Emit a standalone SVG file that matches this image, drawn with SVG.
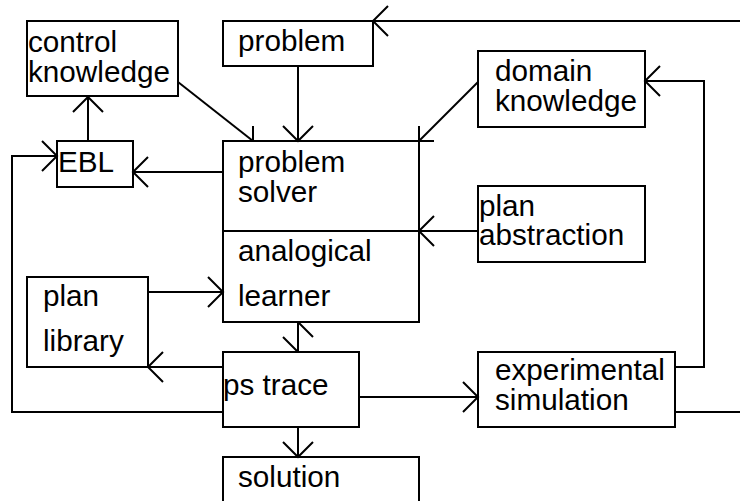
<svg xmlns="http://www.w3.org/2000/svg" width="740" height="501" viewBox="0 0 740 501">
  <style>
    .box { fill: #fff; stroke: #000; stroke-width: 2; }
    .lbl { font-family: "Liberation Sans", Arial, sans-serif; font-size: 29.7px; fill: #000; }
    .edge { fill: none; stroke: #000; stroke-width: 2; }
  </style>
  <defs>
    <marker id="arr" viewBox="-20 -20 40 40" markerWidth="40" markerHeight="40" refX="0" refY="0" orient="auto" markerUnits="userSpaceOnUse">
      <path d="M-15,-15 L0,0 L-15,15" fill="none" stroke="#000" stroke-width="2"/>
    </marker>
  </defs>
  <rect width="740" height="501" fill="#fff"/>

  <g id="control-knowledge">
    <rect class="box" x="27" y="21" width="151" height="75"/>
    <text class="lbl" x="28" y="52">control</text>
    <text class="lbl" x="28" y="82">knowledge</text>
  </g>
  <g id="problem">
    <rect class="box" x="223" y="21" width="150" height="45"/>
    <text class="lbl" x="238" y="51">problem</text>
  </g>
  <g id="ebl">
    <rect class="box" x="57" y="141" width="76" height="46"/>
    <text class="lbl" x="58" y="172">EBL</text>
  </g>
  <g id="problem-solver">
    <rect class="box" x="223" y="141" width="196" height="181"/>
    <line class="edge" x1="223" y1="231" x2="419" y2="231"/>
    <text class="lbl" x="238" y="172">problem</text>
    <text class="lbl" x="238" y="202">solver</text>
    <text class="lbl" x="238" y="261">analogical</text>
    <text class="lbl" x="238" y="306">learner</text>
  </g>
  <g id="domain-knowledge">
    <rect class="box" x="478" y="51" width="167" height="76"/>
    <text class="lbl" x="495" y="81">domain</text>
    <text class="lbl" x="495" y="111">knowledge</text>
  </g>
  <g id="plan-abstraction">
    <rect class="box" x="478" y="186" width="167" height="76"/>
    <text class="lbl" x="479" y="216">plan</text>
    <text class="lbl" x="479" y="245">abstraction</text>
  </g>
  <g id="plan-library">
    <rect class="box" x="27" y="277" width="121" height="90"/>
    <text class="lbl" x="43" y="306">plan</text>
    <text class="lbl" x="43" y="351">library</text>
  </g>
  <g id="ps-trace">
    <rect class="box" x="223" y="352" width="136" height="75"/>
    <text class="lbl" x="223" y="395">ps trace</text>
  </g>
  <g id="experimental-simulation">
    <rect class="box" x="478" y="352" width="197" height="75"/>
    <text class="lbl" x="495" y="380">experimental</text>
    <text class="lbl" x="495" y="410">simulation</text>
  </g>
  <g id="solution">
    <rect class="box" x="223" y="457" width="196" height="60"/>
    <text class="lbl" x="238" y="487">solution</text>
  </g>

  <g id="connectors">
    <!-- feedback from experimental simulation back to problem -->
    <line class="edge" x1="675" y1="412" x2="740" y2="412"/>
    <line class="edge" x1="740" y1="21" x2="373" y2="21" marker-end="url(#arr)"/>
    <!-- inputs to the problem solver -->
    <line class="edge" x1="298" y1="66" x2="298" y2="141" marker-end="url(#arr)"/>
    <line class="edge" x1="178" y1="82" x2="253" y2="141"/>
    <path class="edge" d="M253,126 L253,141 L238,141"/>
    <line class="edge" x1="478" y1="82" x2="419" y2="141"/>
    <path class="edge" d="M419,126 L419,141 L434,141"/>
    <line class="edge" x1="478" y1="231" x2="419" y2="231" marker-end="url(#arr)"/>
    <line class="edge" x1="148" y1="292" x2="223" y2="292" marker-end="url(#arr)"/>
    <!-- EBL links -->
    <line class="edge" x1="88" y1="141" x2="88" y2="97" marker-end="url(#arr)"/>
    <line class="edge" x1="223" y1="172" x2="133" y2="172" marker-end="url(#arr)"/>
    <polyline class="edge" points="223,412 12,412 12,156 57,156" marker-end="url(#arr)"/>
    <!-- solver / ps trace exchange (half heads) -->
    <line class="edge" x1="298" y1="322" x2="298" y2="352"/>
    <path class="edge" d="M298,322 L313,337 M283,337 L298,352"/>
    <!-- outputs of ps trace -->
    <line class="edge" x1="223" y1="367" x2="148" y2="367" marker-end="url(#arr)"/>
    <line class="edge" x1="359" y1="397" x2="478" y2="397" marker-end="url(#arr)"/>
    <line class="edge" x1="298" y1="427" x2="298" y2="457" marker-end="url(#arr)"/>
    <!-- experimental simulation to domain knowledge -->
    <polyline class="edge" points="675,367 704,367 704,81 645,81" marker-end="url(#arr)"/>
  </g>
</svg>
